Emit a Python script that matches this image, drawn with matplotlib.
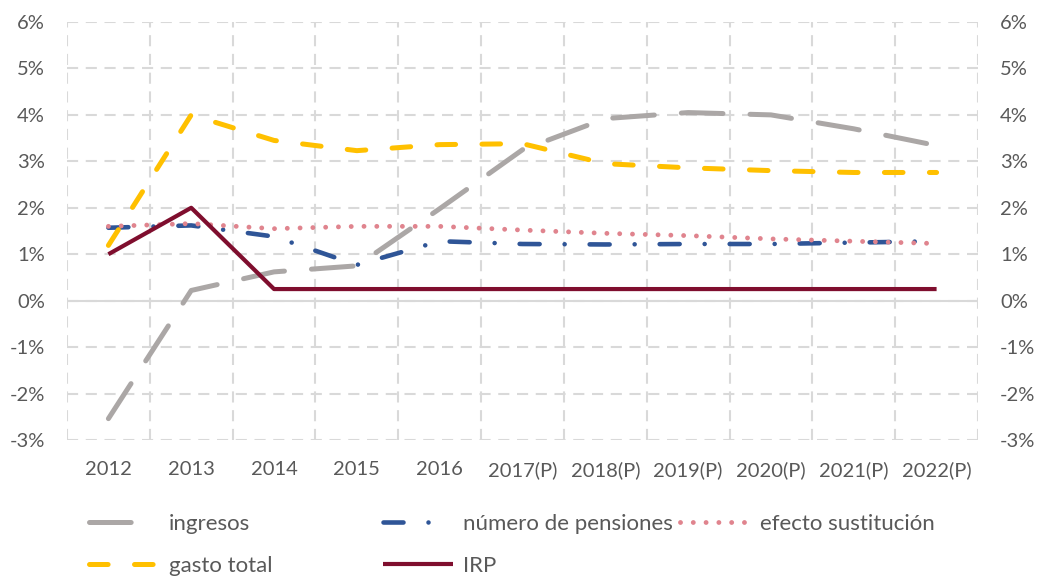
import matplotlib
matplotlib.use("Agg")
import matplotlib.pyplot as plt
from matplotlib.ticker import FixedLocator

plt.rcParams['font.family'] = ['Lato', 'DejaVu Sans']
plt.rcParams['axes.unicode_minus'] = False
plt.rcParams['lines.scale_dashes'] = False

years = ['2012', '2013', '2014', '2015', '2016', '2017(P)', '2018(P)',
         '2019(P)', '2020(P)', '2021(P)', '2022(P)']
ingresos = [-2.54, 0.22, 0.62, 0.75, 1.98, 3.25, 3.92, 4.05, 4.0, 3.7, 3.34]
pensiones = [1.57, 1.62, 1.38, 0.77, 1.28, 1.22, 1.21, 1.22, 1.22, 1.25, 1.28]
efecto = [1.6, 1.66, 1.55, 1.6, 1.6, 1.52, 1.45, 1.4, 1.33, 1.28, 1.23]
gasto = [1.19, 4.0, 3.45, 3.23, 3.36, 3.38, 2.95, 2.86, 2.8, 2.76, 2.76]
irp = [1.0, 2.0, 0.25, 0.25, 0.25, 0.25, 0.25, 0.25, 0.25, 0.25, 0.25]
yticks = [-3, -2, -1, 0, 1, 2, 3, 4, 5, 6]
ytick_labels = ['-3%', '-2%', '-1%', '0%', '1%', '2%', '3%', '4%', '5%', '6%']

TXT = '#595959'
GRID = '#D9D9D9'

fig = plt.figure(figsize=(10.41, 5.77), dpi=100)
ax = fig.add_axes([67/1041, 1-440/577, (978-67)/1041, (440-22)/577])
x = list(range(len(years)))

l_ing, = ax.plot(x, ingresos, color='#ABA7A6', lw=3.6, dashes=(30, 19.5),
                 dash_capstyle='round')
l_pen, = ax.plot(x, pensiones, color='#2F5597', lw=3.3, dashes=(14.4, 18, 0.01, 18),
                 dash_capstyle='round')
l_efe, = ax.plot(x, efecto, color='#E0848E', lw=3.5, dashes=(0.01, 9.2),
                 dash_capstyle='round')
l_gas, = ax.plot(x, gasto, color='#FFC000', lw=3.6, dashes=(13.4, 19),
                 dash_capstyle='round')
l_irp, = ax.plot(x, irp, color='#7F0E2E', lw=3.0, solid_capstyle='butt')

ax.set_xlim(-0.5, len(years) - 0.5)
ax.set_ylim(-3, 6)
ax.set_xticks(x)
ax.set_xticklabels(years)
ax.xaxis.set_minor_locator(FixedLocator([i - 0.5 for i in range(len(years) + 1)]))
ax.set_yticks(yticks)
ax.set_yticklabels(ytick_labels)
ax.grid(True, axis='y', which='major', color=GRID, lw=1.5, ls=(0, (8, 5.5)))
ax.grid(True, axis='x', which='minor', color=GRID, lw=1.5, ls=(0, (8, 5.5)))
ax.axhline(0, color=GRID, lw=1.5, zorder=1)
for s in ax.spines.values():
    s.set_visible(False)
ax.tick_params(axis='both', which='both', length=0, labelsize=14.5, labelcolor=TXT)
ax.tick_params(axis='x', pad=15)
ax.tick_params(axis='y', pad=16)

ax2 = ax.twinx()
ax2.set_ylim(-3, 6)
ax2.set_yticks(yticks)
ax2.set_yticklabels(ytick_labels)
for s in ax2.spines.values():
    s.set_visible(False)
ax2.tick_params(axis='y', length=0, labelsize=14.5, labelcolor=TXT, pad=16)

W, H = 1041, 577
entries = [
    (l_ing, 'ingresos', 89, 524, 3.0),
    (l_pen, 'número de pensiones', 383, 524, 3.15),
    (l_efe, 'efecto sustitución', 680, 524, 3.15),
    (l_gas, 'gasto total', 89, 566, 3.15),
    (l_irp, 'IRP', 383, 566, 3.15),
]
for h, lab, px, py, hl in entries:
    fig.legend(handles=[h], labels=[lab], loc='center left',
               bbox_to_anchor=(px / W, 1 - py / H), frameon=False,
               borderpad=0, borderaxespad=0, handlelength=hl,
               handletextpad=0.45 + (3.15 - hl), fontsize=16, labelcolor=TXT)

fig.savefig('out.png', dpi=100)
